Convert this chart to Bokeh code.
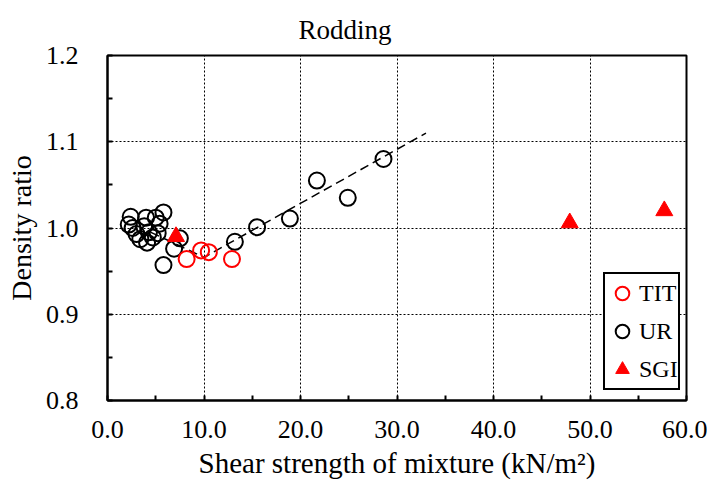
from bokeh.plotting import figure
from bokeh.models import Range1d, FixedTicker, NumeralTickFormatter, Legend, LegendItem
from bokeh.embed import file_html
from bokeh.resources import INLINE

# ---- data ----
tit_x = [8.2, 9.7, 10.5, 12.9]
tit_y = [0.964, 0.974, 0.972, 0.964]

ur_x = [2.4, 2.2, 2.6, 3.0, 3.4, 3.8, 4.0, 4.3, 5.0, 5.2, 5.4, 4.7, 4.1, 5.8, 5.8,
        6.9, 7.5, 13.2, 15.5, 18.9, 21.7, 24.9, 28.6]
ur_y = [1.013, 1.004, 1.000, 0.993, 0.987, 1.002, 1.012, 0.995, 1.012, 0.994, 1.005,
        0.989, 0.983, 1.018, 0.957, 0.976, 0.988, 0.984, 1.001, 1.011, 1.055, 1.035, 1.080]

sgi_x = [7.1, 47.9, 57.7]
sgi_y = [0.990, 1.006, 1.020]

trend_x = [4.5, 10.0, 33.0]
trend_y = [0.995, 0.966, 1.110]

x_ticks = [0, 10, 20, 30, 40, 50, 60]
x_minor = [5, 15, 25, 35, 45, 55]
y_ticks = [0.8, 0.9, 1.0, 1.1, 1.2]
y_minor = [0.85, 0.95, 1.05, 1.15]

title_text = "Rodding"
x_label = "Shear strength of mixture (kN/m\u00b2)"
y_label = "Density ratio"

FONT = "Liberation Serif"

p = figure(width=707, height=488, output_backend="svg", toolbar_location=None,
           x_range=Range1d(0, 60), y_range=Range1d(0.8, 1.2),
           min_border_left=107, min_border_right=21, min_border_top=55, min_border_bottom=88,
           background_fill_color="white", border_fill_color="white")

p.title.text = title_text
p.title.text_font = FONT
p.title.text_font_size = "27px"
p.title.text_font_style = "normal"
p.title.text_color = "black"
p.title.align = "left"
p.title.vertical_align = "top"
p.title.offset = 191
p.title.standoff = 18

p.outline_line_color = "black"
p.outline_line_width = 2
p.outline_line_alpha = 1

p.xaxis.ticker = FixedTicker(ticks=x_ticks, minor_ticks=x_minor)
p.yaxis.ticker = FixedTicker(ticks=y_ticks, minor_ticks=y_minor)
p.xaxis.formatter = NumeralTickFormatter(format="0.0")
p.yaxis.formatter = NumeralTickFormatter(format="0.0")

for ax in (p.xaxis, p.yaxis):
    ax.axis_line_color = "black"
    ax.axis_line_width = 2
    ax.major_tick_in = 5
    ax.major_tick_out = 0
    ax.minor_tick_in = 5
    ax.minor_tick_out = 0
    ax.major_tick_line_color = "black"
    ax.minor_tick_line_color = "black"
    ax.major_tick_line_width = 2
    ax.minor_tick_line_width = 2
    ax.major_label_text_font = FONT
    ax.major_label_text_font_size = "26px"
    ax.major_label_text_color = "black"
    ax.axis_label_text_font = FONT
    ax.axis_label_text_font_style = "normal"
    ax.axis_label_text_color = "black"

p.xaxis.axis_label = x_label
p.yaxis.axis_label = y_label
p.xaxis.axis_label_text_font_size = "29px"
p.yaxis.axis_label_text_font_size = "28px"
p.xaxis.major_label_standoff = 20
p.yaxis.major_label_standoff = 29
p.xaxis.axis_label_standoff = 6
p.yaxis.axis_label_standoff = 6

for g in (p.xgrid, p.ygrid):
    g.grid_line_color = "black"
    g.grid_line_dash = "2 2"
    g.grid_line_width = 1

p.line(trend_x, trend_y, line_color="black", line_width=1.5, line_dash="9 5")

r_ur = p.scatter(ur_x, ur_y, marker="circle", size=16, line_color="black", line_width=2,
                 fill_alpha=0)
r_tit = p.scatter(tit_x, tit_y, marker="circle", size=16, line_color="red", line_width=2,
                  fill_alpha=0)
r_sgi = p.scatter(sgi_x, sgi_y, marker="triangle", size=17, line_color="red",
                  fill_color="red", line_width=1)

legend = Legend(items=[LegendItem(label="TIT", renderers=[r_tit]),
                       LegendItem(label="UR", renderers=[r_ur]),
                       LegendItem(label="SGI", renderers=[r_sgi])],
                location=(496, 10))
legend.label_text_font = FONT
legend.label_text_font_size = "24px"
legend.label_text_color = "black"
legend.glyph_width = 34
legend.glyph_height = 38
legend.label_height = 38
legend.spacing = 0
legend.padding = 0
legend.margin = 0
legend.label_standoff = 0
legend.border_line_color = "black"
legend.border_line_alpha = 1
legend.border_line_width = 2
legend.background_fill_color = "white"
legend.background_fill_alpha = 1
p.add_layout(legend)

open("out.html", "w").write(file_html(p, INLINE))
